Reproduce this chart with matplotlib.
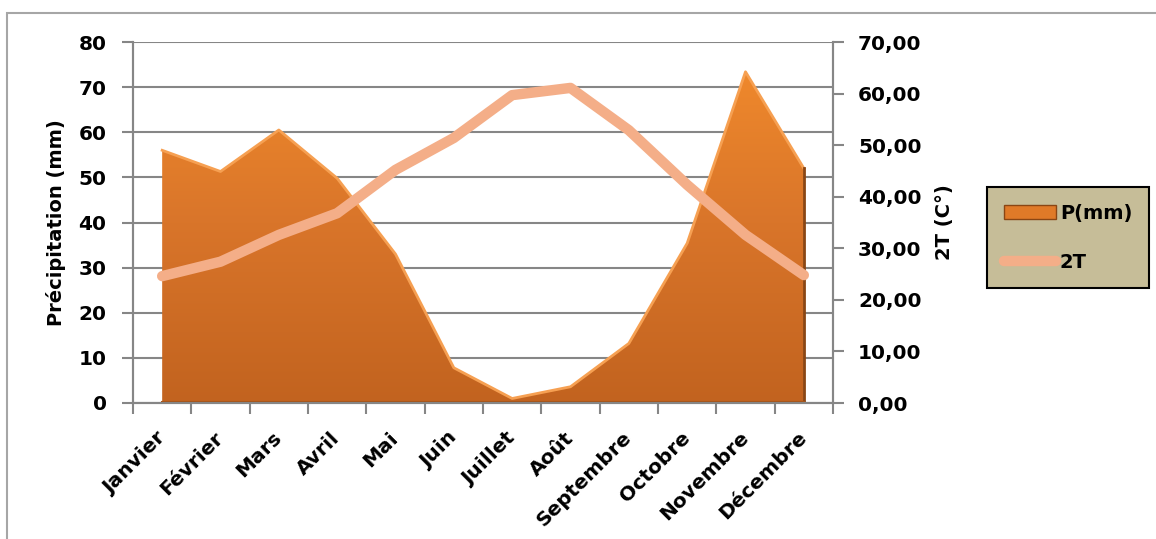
import numpy as np
import matplotlib
matplotlib.use('Agg')
import matplotlib.pyplot as plt
from matplotlib.colors import LinearSegmentedColormap
from matplotlib.lines import Line2D
from matplotlib.patches import Patch, Rectangle

# données
mois = ['Janvier', 'Février', 'Mars', 'Avril', 'Mai', 'Juin', 'Juillet',
        'Août', 'Septembre', 'Octobre', 'Novembre', 'Décembre']
precip = [56, 51.3, 60.5, 49.8, 33, 7.8, 1, 3.6, 13.2, 35.4, 73.4, 52]
temp2 = [24.6, 27.4, 32.6, 36.8, 45.2, 51.4, 59.7, 61.1, 52.9, 42.3, 32.6, 24.8]

plt.rcParams['font.family'] = ['DejaVu Sans']
plt.rcParams['font.weight'] = 'bold'

W, H = 1156, 539
fig = plt.figure(figsize=(W / 100, H / 100), dpi=100)
ax = fig.add_axes([133 / W, 1 - 403 / H, (833 - 133) / W, (403 - 42) / H])
ax2 = ax.twinx()

x = np.arange(len(mois))
grey = '#868686'
salmon = '#F4AE88'

# aire des précipitations avec dégradé
poly = ax.fill_between(x, 0, precip, facecolor='none', edgecolor='none', zorder=2)
cmap = LinearSegmentedColormap.from_list('orange', ['#C2631F', '#D9752A', '#F38C2C'])
grad = np.linspace(0, 1, 256).reshape(-1, 1)
img = ax.imshow(grad, cmap=cmap, origin='lower', aspect='auto',
                extent=[-0.5, 11.5, 0, 80], zorder=2)
img.set_clip_path(poly.get_paths()[0], transform=ax.transData)
ax.plot(x, precip, color='#F6A052', lw=2, zorder=3, solid_joinstyle='round')
ax.plot([x[-1], x[-1]], [0, precip[-1]], color='#8A4614', lw=2, zorder=3)
ax.plot([x[0], x[-1]], [0.25, 0.25], color='#A85418', lw=1.5, zorder=3)

ax.set_xlim(-0.5, 11.5)
ax.set_ylim(0, 80)
ax.set_yticks(range(0, 81, 10))
ax.set_axisbelow(True)
ax.yaxis.grid(True, color=grey, lw=1.5)
ax.set_xticks(x)
ax.set_xticklabels(mois, rotation=45, ha='right', va='center', rotation_mode='anchor',
                   fontsize=14.5, fontweight='bold')
ax.set_xticks(np.arange(-0.5, 12, 1), minor=True)
ax.tick_params(axis='x', which='major', length=0, pad=23)
ax.tick_params(axis='x', which='minor', length=8, width=1.5, color=grey)
ax.tick_params(axis='y', length=8, width=1.5, color=grey, labelsize=14.5, pad=11)
ax.set_ylabel('Précipitation (mm)', fontsize=14, fontweight='bold', labelpad=9)

# ligne 2T
ax2.plot(x, temp2, color=salmon, lw=7.5, solid_capstyle='round',
         solid_joinstyle='round', zorder=4)
ax2.set_ylim(0, 70)
ax2.set_yticks(range(0, 71, 10))
ax2.set_yticklabels([f'{v},00' for v in range(0, 71, 10)])
ax2.tick_params(axis='y', length=8, width=1.5, color=grey, labelsize=14.5, pad=10)
ax2.set_ylabel('2T (C°)', fontsize=14, fontweight='bold', labelpad=10)

for a in (ax, ax2):
    a.spines['top'].set_visible(False)
    for s in ('left', 'right', 'bottom'):
        a.spines[s].set_color(grey)
        a.spines[s].set_linewidth(1.5)

handles = [Patch(facecolor='#E07A28', edgecolor='#8A4614', label='P(mm)'),
           Line2D([], [], color=salmon, lw=7.5, solid_capstyle='round', label='2T')]
leg = fig.legend(handles=handles, loc='upper left', bbox_to_anchor=(987 / W, 1 - 187 / H),
                 frameon=True, fancybox=False, fontsize=14, handlelength=2.7,
                 labelspacing=1.55, borderpad=0.85, borderaxespad=0, handletextpad=0.2)
leg.get_frame().set_facecolor('#C6BD98')
leg.get_frame().set_edgecolor('black')
leg.get_frame().set_linewidth(1.5)
leg.get_frame().set_alpha(1)

# cadre extérieur
fig.patches.append(Rectangle((7 / W, -0.1), 1.2, 1 - 13 / H + 0.1, transform=fig.transFigure,
                             fill=False, edgecolor='#A6A6A6', lw=1.5))

fig.savefig('out.png', dpi=100)
